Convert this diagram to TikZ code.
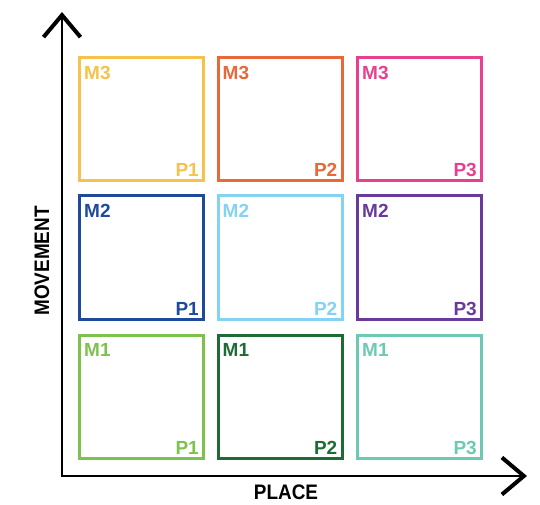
\documentclass[tikz,border=0pt]{standalone}
\usepackage{fontspec}
\setmainfont{Liberation Sans}
\newfontfamily\condensedfont{Liberation Sans}[FakeStretch=0.9]
\usetikzlibrary{arrows.meta}

\definecolor{cyellow}{HTML}{F5C24C}
\definecolor{corange}{HTML}{E8683A}
\definecolor{cpink}{HTML}{E8408E}
\definecolor{cblue}{HTML}{1F4A9C}
\definecolor{clightblue}{HTML}{85D2F2}
\definecolor{cpurple}{HTML}{6A3A9A}
\definecolor{clightgreen}{HTML}{7DC24C}
\definecolor{cdarkgreen}{HTML}{1E6B35}
\definecolor{cteal}{HTML}{6CC9B4}

\tikzset{
	cell/.style={shape=rectangle, draw=#1, line width=3pt, minimum width=124pt, minimum height=123pt, inner sep=0pt},
	tag/.style={text=#1, inner sep=0pt, font=\fontsize{19}{19}\selectfont\bfseries},
	axislabel/.style={inner sep=0pt, font=\condensedfont\fontsize{21}{21}\selectfont\bfseries},
	barb/.tip={Straight Barb[length=22pt, width=37pt, line width=4pt]}
}

\begin{document}
\begin{tikzpicture}[x=1pt, y=1pt]
	\useasboundingbox (0,0) rectangle (540,504);
	% Axes:
	\coordinate (ytip) at (62, 492);
	\coordinate (orig) at (62, 28);
	\coordinate (xtip) at (527, 28);
	\draw[line width=1.6pt, barb-barb] (ytip) -- (orig) -- (xtip);
	\node[axislabel, rotate=90] (movement) at (42, 243) {MOVEMENT};
	\node[axislabel] (place) at (286, 12) {PLACE};
	% Cells:
	\node[cell=cyellow] (m3p1) at (141.5, 385) {};
	\node[cell=corange] (m3p2) at (280, 385) {};
	\node[cell=cpink] (m3p3) at (419.5, 385) {};
	\node[cell=cblue] (m2p1) at (141.5, 246.5) {};
	\node[cell=clightblue] (m2p2) at (280, 246.5) {};
	\node[cell=cpurple] (m2p3) at (419.5, 246.5) {};
	\node[cell=clightgreen] (m1p1) at (141.5, 107.5) {};
	\node[cell=cdarkgreen] (m1p2) at (280, 107.5) {};
	\node[cell=cteal] (m1p3) at (419.5, 107.5) {};
	% Tags:
	\node[tag=cyellow, anchor=north west] (m3p1m) at ([shift={(6,-10)}]m3p1.north west) {M3};
	\node[tag=cyellow, anchor=south east] (m3p1p) at ([shift={(-6,5)}]m3p1.south east) {P1};
	\node[tag=corange, anchor=north west] (m3p2m) at ([shift={(6,-10)}]m3p2.north west) {M3};
	\node[tag=corange, anchor=south east] (m3p2p) at ([shift={(-6,5)}]m3p2.south east) {P2};
	\node[tag=cpink, anchor=north west] (m3p3m) at ([shift={(6,-10)}]m3p3.north west) {M3};
	\node[tag=cpink, anchor=south east] (m3p3p) at ([shift={(-6,5)}]m3p3.south east) {P3};
	\node[tag=cblue, anchor=north west] (m2p1m) at ([shift={(6,-10)}]m2p1.north west) {M2};
	\node[tag=cblue, anchor=south east] (m2p1p) at ([shift={(-6,5)}]m2p1.south east) {P1};
	\node[tag=clightblue, anchor=north west] (m2p2m) at ([shift={(6,-10)}]m2p2.north west) {M2};
	\node[tag=clightblue, anchor=south east] (m2p2p) at ([shift={(-6,5)}]m2p2.south east) {P2};
	\node[tag=cpurple, anchor=north west] (m2p3m) at ([shift={(6,-10)}]m2p3.north west) {M2};
	\node[tag=cpurple, anchor=south east] (m2p3p) at ([shift={(-6,5)}]m2p3.south east) {P3};
	\node[tag=clightgreen, anchor=north west] (m1p1m) at ([shift={(6,-10)}]m1p1.north west) {M1};
	\node[tag=clightgreen, anchor=south east] (m1p1p) at ([shift={(-6,5)}]m1p1.south east) {P1};
	\node[tag=cdarkgreen, anchor=north west] (m1p2m) at ([shift={(6,-10)}]m1p2.north west) {M1};
	\node[tag=cdarkgreen, anchor=south east] (m1p2p) at ([shift={(-6,5)}]m1p2.south east) {P2};
	\node[tag=cteal, anchor=north west] (m1p3m) at ([shift={(6,-10)}]m1p3.north west) {M1};
	\node[tag=cteal, anchor=south east] (m1p3p) at ([shift={(-6,5)}]m1p3.south east) {P3};
\end{tikzpicture}
\end{document}
